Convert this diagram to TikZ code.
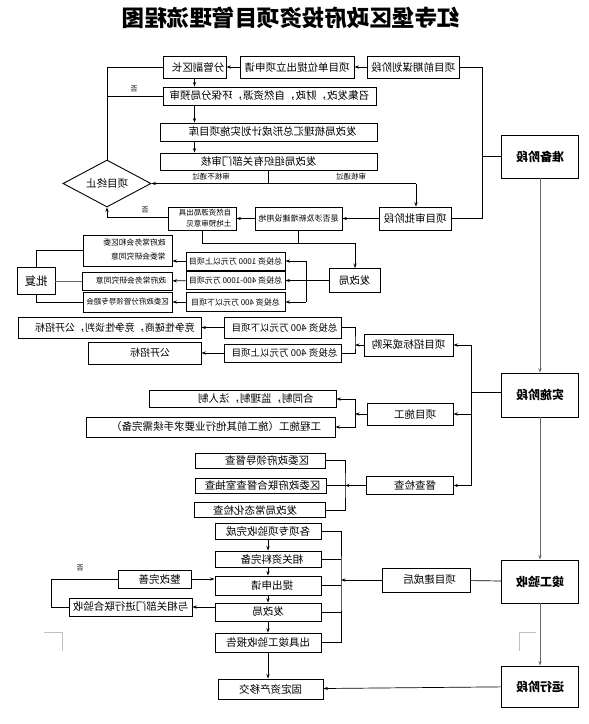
\documentclass[tikz,border=0pt]{standalone}
\usepackage{fontspec}
\setmainfont{Noto Sans CJK SC}
\usepackage{graphicx}
\usetikzlibrary{arrows.meta,shapes.geometric}
\newcommand\rf[1]{\reflectbox{#1}}
\newcommand\rs[2]{\reflectbox{#2\hspace*{#1}}}
\newcommand\lsh[2]{\reflectbox{\hspace*{#1}#2}}
\begin{document}
\begin{tikzpicture}[x=1pt,y=-1pt,
  bx/.style={draw, line width=0.9pt, inner sep=0pt, font=\fontsize{10.5}{12.6}\selectfont},
  stg/.style={bx, minimum width=77pt, font=\fontsize{12}{14}\selectfont\bfseries},
  sm/.style={font=\fontsize{8}{10}\selectfont},
  lab/.style={inner sep=0pt, font=\fontsize{7}{8}\selectfont},
  ln/.style={line width=0.7pt},
  gln/.style={line width=1pt, draw=black!60},
  arr/.style={ln, -{Stealth[length=4.5pt,width=3.2pt]}},
  garr/.style={gln, -{Stealth[length=4.5pt,width=3.2pt]}},
  cmark/.style={line width=0.5pt, draw=black!25}]
\fill[white] (0,0) rectangle (589,724);
\useasboundingbox (0,0) rectangle (589,724);

% title
\node[inner sep=0pt] (title) at (291,18) {\rf{\fontsize{22.5}{26}\selectfont\bfseries 红寺堡区政府投资项目管理流程图}};

% preparation stage
\node[bx, minimum width=92pt, minimum height=22pt] (pre) at (413,67) {\rf{项目前期谋划阶段}};
\node[bx, minimum width=114pt, minimum height=22pt] (apply) at (297,67) {\rf{项目单位提出立项申请}};
\node[bx, minimum width=63pt, minimum height=22pt] (vice) at (194.5,67) {\rs{7pt}{分管副区长}};
\node[bx, minimum width=213pt, minimum height=18pt] (conv) at (269.5,96) {\rf{召集发改，财政，自然资源，环保分局预审}};
\node[bx, minimum width=217pt, minimum height=18pt] (lib) at (268.5,132) {\rs{8pt}{发改局梳理汇总形成计划实施项目库}};
\node[bx, minimum width=217pt, minimum height=17pt] (audit) at (268.5,161.5) {\lsh{20pt}{发改局组织有关部门审核}};
\node[draw, line width=0.9pt, diamond, aspect=1.9, inner sep=0pt, minimum width=88pt, minimum height=47pt, font=\fontsize{10.5}{12.6}\selectfont] (stop) at (107,183.5) {\rf{项目终止}};
\node[stg, minimum height=43pt] (prep) at (540,156.5) {\rf{准备阶段}};
\node[bx, minimum width=72pt, minimum height=23pt] (appr) at (415,218.5) {\rf{项目审批阶段}};
\node[bx, sm, minimum width=87pt, minimum height=23pt] (land) at (298.5,218.5) {\rf{是否涉及新增建设用地}};
\node[bx, minimum width=68pt, minimum height=22pt, font=\fontsize{7.5}{11.5}\selectfont] (nres) at (202,218.5) {\rs{6pt}{\begin{tabular}{@{}l@{}}自然资源局出具\\土地预审意见\end{tabular}}};

\node[lab] (no1) at (134,89) {\rf{否}};
\node[lab] (no2) at (145,210) {\rf{否}};
\node[lab, font=\fontsize{7.5}{9}\selectfont] (t1) at (211,177) {\rf{审核不通过}};
\node[lab, font=\fontsize{7.5}{9}\selectfont] (t2) at (351,177) {\rf{审核通过}};

% approval
\node[bx, minimum width=51pt, minimum height=24pt] (fgj1) at (354.5,280.5) {\rf{发改局}};
\node[bx, sm, minimum width=99pt, minimum height=18pt] (i1) at (235.5,261) {\rf{总投资 1000 万元以上项目}};
\node[bx, sm, minimum width=99pt, minimum height=18pt] (i2) at (235.5,280.5) {\rf{总投资 400-1000 万元项目}};
\node[bx, sm, minimum width=99pt, minimum height=19pt] (i3) at (235.5,302) {\rf{总投资 400 万元以下项目}};
\node[bx, minimum width=89pt, minimum height=31pt, font=\fontsize{7.8}{9.5}\selectfont] (d1) at (127.5,250.5) {\rs{14pt}{\begin{tabular}{@{}l@{}}政府常务会和区委\\[5pt]常委会研究同意\end{tabular}}};
\node[bx, minimum width=90pt, minimum height=18pt, font=\fontsize{7.8}{9.5}\selectfont] (d2) at (127,281) {\rs{8pt}{政府常务会研究同意}};
\node[bx, minimum width=89pt, minimum height=20pt, font=\fontsize{7.5}{9}\selectfont] (d3) at (127.5,302) {\rf{区委政府分管领导专题会}};
\node[bx, minimum width=38pt, minimum height=27pt, font=\fontsize{11.5}{13}\selectfont] (pf) at (36,281) {\rf{批复}};

% bidding
\node[bx, minimum width=89pt, minimum height=22pt] (bid) at (408.5,345) {\rf{项目招标或采购}};
\node[bx, minimum width=117pt, minimum height=21pt, font=\fontsize{9.5}{11}\selectfont] (b1) at (282.5,327.5) {\rs{4pt}{总投资 400 万元以下项目}};
\node[bx, minimum width=117pt, minimum height=18pt, font=\fontsize{9.5}{11}\selectfont] (b2) at (282.5,353) {\rs{4pt}{总投资 400 万元以上项目}};
\node[bx, minimum width=183pt, minimum height=21pt, font=\fontsize{10}{12}\selectfont] (c1) at (109.5,327.5) {\rs{11pt}{竞争性磋商，竞争性谈判，公开招标}};
\node[bx, minimum width=113pt, minimum height=22pt, font=\fontsize{10}{12}\selectfont] (c2) at (144.5,353) {\rs{11pt}{公开招标}};

% implementation
\node[stg, minimum height=44pt] (impl) at (540,395) {\rf{实施阶段}};
\node[bx, minimum width=86pt, minimum height=22pt] (cons) at (410,414) {\rs{10pt}{项目施工}};
\node[bx, minimum width=187pt, minimum height=17pt] (e1) at (242.5,399) {\rs{27pt}{合同制，监理制，法人制}};
\node[bx, minimum width=249pt, minimum height=20pt] (e2) at (210.5,427) {\rs{11pt}{工程施工（施工前其他行业要求手续需完备）}};
\node[bx, minimum width=87pt, minimum height=18pt] (insp) at (409.5,485.5) {\rs{11pt}{督查检查}};
\node[bx, minimum width=130pt, minimum height=15pt] (s1) at (260,460.5) {\rs{14pt}{区委政府领导督查}};
\node[bx, minimum width=131pt, minimum height=15pt] (s2) at (260.5,485.5) {\rs{4pt}{区委政府联合督查室抽查}};
\node[bx, minimum width=131pt, minimum height=15pt] (s3) at (259.5,510) {\lsh{9pt}{发改局常态化检查}};

% acceptance
\node[stg, minimum height=43pt] (acc) at (540,581.5) {\rf{竣工验收}};
\node[bx, minimum width=88pt, minimum height=24pt] (built) at (426,580) {\rs{7pt}{项目建成后}};
\node[bx, minimum width=106pt, minimum height=16pt] (a1) at (268,531) {\rf{各项专项验收完成}};
\node[bx, minimum width=106pt, minimum height=16pt] (a2) at (268,559) {\rs{8pt}{相关资料完备}};
\node[bx, minimum width=106pt, minimum height=19pt] (a3) at (268,585.5) {\rs{8pt}{提出申请}};
\node[bx, minimum width=106pt, minimum height=18pt] (a4) at (268,612) {\rf{发改局}};
\node[bx, minimum width=106pt, minimum height=19pt] (a5) at (268,642.5) {\rf{出具竣工验收报告}};
\node[bx, minimum width=105pt, minimum height=20pt] (fix) at (270.5,689) {\rf{固定资产移交}};
\node[bx, minimum width=73pt, minimum height=18pt] (rect) at (154.5,579) {\rs{10pt}{整改完善}};
\node[bx, minimum width=123pt, minimum height=18pt] (joint) at (130.5,607) {\rf{与相关部门进行联合验收}};
\node[lab] (no3) at (80,568) {\rf{否}};
\node[stg, minimum height=41pt] (run) at (540,686.5) {\rf{运行阶段}};

% coordinates
\coordinate (rb) at (482,218.5);
\coordinate (jm) at (416,183.5);
\coordinate (lx) at (107,96);
\coordinate (lb) at (107,217);
\coordinate (jb) at (355,243);
\coordinate (br1) at (306,280.5);
\coordinate (rl) at (471,392);
\coordinate (br2) at (355,345);
\coordinate (br3) at (355,414);
\coordinate (br4) at (345,485.5);
\coordinate (br5) at (341,580);
\coordinate (lp) at (51,579);

% connectors: preparation
\draw[arr] (pre) -- (apply);
\draw[arr] (apply) -- (vice);
\draw[arr] (vice.south) -- (vice.south |- conv.north);
\draw[arr] (vice.south |- conv.south) -- (vice.south |- lib.north);
\draw[arr] (vice.south |- lib.south) -- (vice.south |- audit.north);
\draw[ln] (vice.west) -| (stop.north);
\draw[ln] (conv.west) -- (lx);
\draw[ln] (audit.south) -- (audit.south |- jm);
\draw[arr] (jm) -- (stop.east);
\draw[arr] (jm) -- (jm |- appr.north);
\draw[ln] (pre.east) -| (rb) -- (appr.east);
\draw[ln] (prep.west) -- (prep.west -| rb);
\draw[arr] (appr) -- (land);
\draw[arr] (land) -- (nres);
\draw[arr] (nres.west |- lb) -| (stop.south);
\draw[ln] (nres.south) |- (jb);
\draw[ln] (land.south) -- (land.south |- jb);
\draw[arr] (jb) -- (jb |- fgj1.north);

% stage chain
\draw[garr] (prep) -- (impl);
\draw[garr] (impl) -- (acc);
\draw[garr] (acc) -- (run);

% approval
\draw[arr] (fgj1) -- (i2);
\draw[ln] (br1 |- i1.east) -- (br1 |- i3.east);
\draw[arr] (br1 |- i1.east) -- (i1.east);
\draw[arr] (br1 |- i3.east) -- (i3.east);
\draw[arr] (i1.west) -- (i1.west -| d1.east);
\draw[arr] (i2) -- (d2);
\draw[arr] (i3) -- (d3);
\draw[ln] (pf.north) |- (d1.west);
\draw[gln] (pf) -- (d2);
\draw[ln] (pf.south) |- (d3.west);

% bidding
\draw[ln] (impl.west |- rl) -- (rl);
\draw[arr] (rl) |- (bid.east);
\draw[arr] (rl) |- (insp.east);
\draw[arr] (rl |- cons.east) -- (cons.east);
\draw[arr] (bid) -- (br2);
\draw[ln] (b1.east) -| (br2) |- (b2.east);
\draw[arr] (b1) -- (c1);
\draw[arr] (b2) -- (c2);

% construction
\draw[arr] (cons) -- (br3);
\draw[arr] (br3) |- (e1.east);
\draw[arr] (br3) |- (e2.east);
\draw[arr] (insp) -- (br4);
\draw[ln] (s1.east) -| (br4) |- (s3.east);
\draw[ln] (s2) -- (br4);

% acceptance
\draw[ln] (acc) -- (built);
\draw[arr] (built) -- (br5);
\draw[ln] (a1.east) -| (br5) |- (a5.east);
\draw[ln] (a2.east) -- (a2.east -| br5);
\draw[ln] (a3.east) -- (a3.east -| br5);
\draw[ln] (a4.east) -- (a4.east -| br5);
\draw[arr] (a1) -- (a2);
\draw[arr] (a2) -- (a3);
\draw[arr] (a3) -- (a4);
\draw[arr] (a4) -- (a5);
\draw[arr] (a5.south) -- (a5.south |- fix.north);
\draw[arr] (rect.east) -- (rect.east -| a3.west);
\draw[arr] (joint.east -| a4.west) -- (joint.east);
\draw[ln] (joint.west) -| (lp) -- (rect.west);
\draw[arr] (run) -- (fix);

% faint corner marks
\draw[cmark] (44,632) -- (62,632) -- (62,651);
\draw[cmark] (536,632) -- (519,632) -- (519,651);
\end{tikzpicture}
\end{document}
